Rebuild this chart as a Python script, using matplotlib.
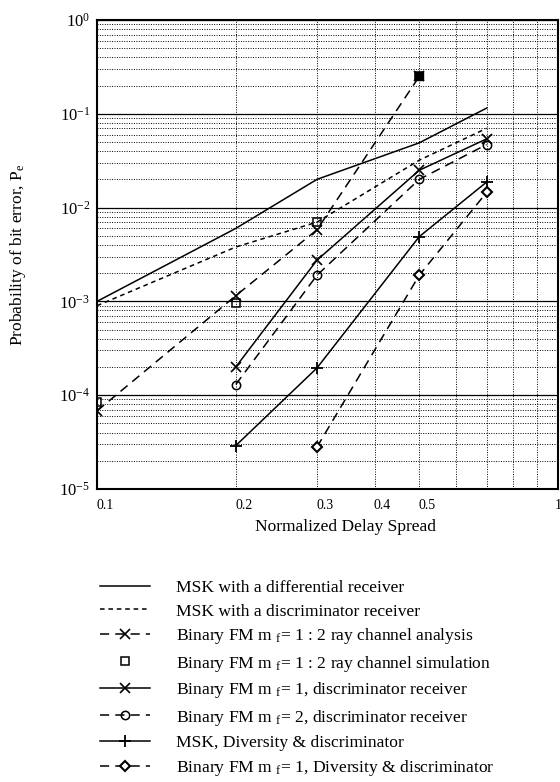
import numpy as np
import matplotlib
matplotlib.use('Agg')
import matplotlib.pyplot as plt
import matplotlib.transforms as mtransforms
from matplotlib import rc

rc('font', family=['Liberation Serif', 'DejaVu Serif'], size=11.5)
rc('mathtext', fontset='custom', rm='Liberation Serif', it='Liberation Serif:italic')

# %% data --------------------------------------------------------------------|
x_all = [0.1, 0.2, 0.3, 0.5, 0.7]
x_ana = [0.1, 0.2, 0.3, 0.5]
x_four = [0.2, 0.3, 0.5, 0.7]
x_three = [0.3, 0.5, 0.7]

msk_diff = [1.0e-3, 6.0e-3, 2.0e-2, 4.9e-2, 1.15e-1]
msk_disc = [9.0e-4, 3.8e-3, 7.0e-3, 3.2e-2, 7.0e-2]
fm1_ana = [6.8e-5, 1.15e-3, 5.8e-3, 2.5e-1]
fm1_sim = [8.5e-5, 9.5e-4, 7.0e-3, 2.5e-1]
fm1_disc = [2.0e-4, 2.75e-3, 2.5e-2, 5.4e-2]
fm2_disc = [1.3e-4, 1.9e-3, 2.0e-2, 4.7e-2]
msk_div = [2.9e-5, 1.95e-4, 4.9e-3, 1.87e-2]
fm1_div = [2.8e-5, 1.9e-3, 1.45e-2]

labels = ['MSK with a differential receiver',
          'MSK with a discriminator receiver',
          r'Binary FM m $_{\mathregular{f}}$= 1 : 2 ray channel analysis',
          r'Binary FM m $_{\mathregular{f}}$= 1 : 2 ray channel simulation',
          r'Binary FM m $_{\mathregular{f}}$= 1, discriminator receiver',
          r'Binary FM m $_{\mathregular{f}}$= 2, discriminator receiver',
          'MSK, Diversity & discriminator',
          r'Binary FM m $_{\mathregular{f}}$= 1, Diversity & discriminator']

xticks = [0.1, 0.2, 0.3, 0.4, 0.5, 1.0]
xticklabels = ['0.1', '0.2', '0.3', '0.4', '0.5', '1']
yticks = [1e-5, 1e-4, 1e-3, 1e-2, 1e-1, 1e0]
yticklabels = [r'$\mathregular{10^{%d}}$' % e for e in range(-5, 1)]

# %% figure ------------------------------------------------------------------|
fig = plt.figure(figsize=(5.6, 7.82), dpi=100)
ax = fig.add_axes([97/560, 1-489/782, 461/560, 469/782])
ax.set_xscale('log')
ax.set_yscale('log')
ax.set_xlim(0.1, 1.0)
ax.set_ylim(1e-5, 1e0)

long_dash = (0, (6, 4))
short_dash = (0, (3, 2.5))
lw = 1.1
h = []
h += ax.plot(x_all, msk_diff, color='k', lw=lw, ls='-')
h += ax.plot(x_all, msk_disc, color='k', lw=lw, ls=short_dash)
h += ax.plot(x_ana, fm1_ana, color='k', lw=lw, ls=long_dash, marker='x',
             ms=7, mew=1.2)
h += ax.plot(x_ana, fm1_sim, color='k', ls='none', marker='s', ms=6,
             mfc='none', mew=1.1)
ax.plot(x_ana[-1:], fm1_sim[-1:], color='k', ls='none', marker='s', ms=6)
h += ax.plot(x_four, fm1_disc, color='k', lw=lw, ls='-', marker='x',
             ms=7, mew=1.2)
h += ax.plot(x_four, fm2_disc, color='k', lw=lw, ls=long_dash, marker='o',
             ms=6, mfc='none', mew=1.1)
h += ax.plot(x_four, msk_div, color='k', lw=lw, ls='-', marker='+',
             ms=8, mew=1.3)
h += ax.plot(x_three, fm1_div, color='k', lw=lw, ls=long_dash, marker='D',
             ms=5, mfc='white', mew=1.5)

# grid: solid at decades, dotted elsewhere
dots = (0, (1, 1.5))
ax.grid(True, which='major', axis='y', color='k', lw=0.9, ls='-')
ax.grid(True, which='minor', axis='y', color='k', lw=0.7, ls=dots)
ax.grid(True, which='both', axis='x', color='k', lw=0.7, ls=dots)
ax.set_axisbelow(True)

ax.set_xticks(xticks)
ax.set_xticklabels(xticklabels, fontsize=10)
ax.xaxis.set_minor_formatter(matplotlib.ticker.NullFormatter())
ax.set_yticks(yticks)
ax.set_yticklabels(yticklabels, fontsize=12)
ax.tick_params(which='both', length=0)
ax.tick_params(axis='x', pad=7)
ax.tick_params(axis='y', pad=5)
shift = mtransforms.ScaledTranslation(8/100, 0, fig.dpi_scale_trans)
for lab in ax.get_xticklabels()[:-1]:
    lab.set_transform(lab.get_transform() + shift)
for sp in ax.spines.values():
    sp.set_linewidth(1.5)

ax.set_xlabel('Normalized Delay Spread', fontsize=12.5)
ax.xaxis.set_label_coords(0.54, -0.064)
ax.set_ylabel(r'Probability of bit error, P$_{\mathregular{e}}$', fontsize=12.5)
ax.yaxis.set_label_coords(-0.15, 0.5)

fig.legend(h, labels, loc='upper left', bbox_to_anchor=(100/560, 1-580/782),
           frameon=False, borderpad=0, borderaxespad=0, handlelength=2.85,
           handletextpad=1.5, labelspacing=0.4, fontsize=12.6)

plt.savefig('out.png', dpi=100)
